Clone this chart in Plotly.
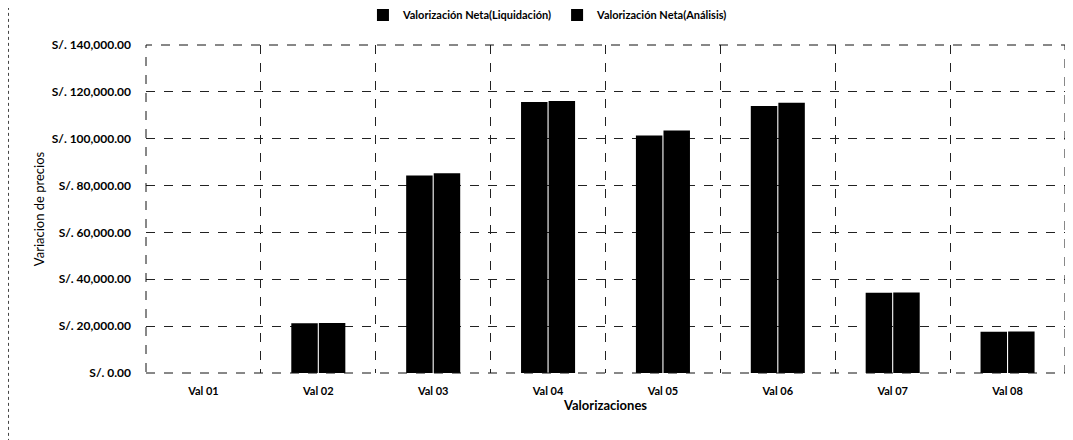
import plotly.graph_objects as go

# valorizaciones y montos (S/.)
categorias = ['Val 01', 'Val 02', 'Val 03', 'Val 04', 'Val 05', 'Val 06', 'Val 07', 'Val 08']
neta_liquidacion = [0, 21200, 84300, 115700, 101400, 114000, 34300, 17600]
neta_analisis = [0, 21300, 85300, 116100, 103500, 115300, 34400, 17700]

FONT = 'Lato'

fig = go.Figure()
fig.add_trace(go.Bar(
    x=categorias,
    y=neta_liquidacion,
    name='Valorización Neta(Liquidación)',
    marker=dict(color='#000000', line=dict(width=0))
))
fig.add_trace(go.Bar(
    x=categorias,
    y=neta_analisis,
    name='Valorización Neta(Análisis)',
    marker=dict(color='#000000', line=dict(width=0))
))

# the page body adds an 8px margin, so the figure is a bit smaller than the window
fig.update_layout(
    width=1065, height=432,
    margin=dict(l=138, r=8, t=37, b=67, autoexpand=False),
    paper_bgcolor='white',
    plot_bgcolor='white',
    barmode='group',
    bargap=0.52,
    bargroupgap=0.04,
    font=dict(family=FONT, size=12, color='#000000'),
    legend=dict(
        orientation='h',
        xref='container', yref='container',
        x=0.507, xanchor='center',
        y=0.984, yanchor='middle',
        font=dict(family=FONT, size=11, color='#000000', weight='bold'),
        itemwidth=30,
        traceorder='normal'
    ),
    xaxis=dict(
        title=dict(text='<b>Valorizaciones</b>', font=dict(size=13), standoff=4),
        tickson='boundaries',
        showgrid=True,
        gridcolor='#222222',
        griddash='dash',
        gridwidth=1,
        ticks='',
        ticklabelstandoff=10,
        tickfont=dict(size=11, weight='bold'),
        showline=False,
        zeroline=False,
        automargin=False
    ),
    yaxis=dict(
        title=dict(text='Variacion de precios', font=dict(size=13), standoff=4),
        range=[0, 140000],
        dtick=20000,
        tickprefix='S/. ',
        tickformat=',.2f',
        showgrid=True,
        gridcolor='#222222',
        griddash='dash',
        gridwidth=1,
        ticks='',
        ticklabelstandoff=14,
        tickfont=dict(size=12, weight='bold'),
        zeroline=False,
        showline=False,
        automargin=False
    ),
    shapes=[
        # marco punteado del área de trazado
        dict(type='rect', xref='paper', yref='paper', x0=0, x1=1, y0=0, y1=1,
             line=dict(color='#111111', width=1, dash='dash')),
        # borde izquierdo de la hoja escaneada
        dict(type='line', xref='paper', yref='paper', x0=-0.1496, x1=-0.1496, y0=-0.21, y1=1.13,
             line=dict(color='#444444', width=1, dash='dot'))
    ]
)

fig.write_html('out.html')
